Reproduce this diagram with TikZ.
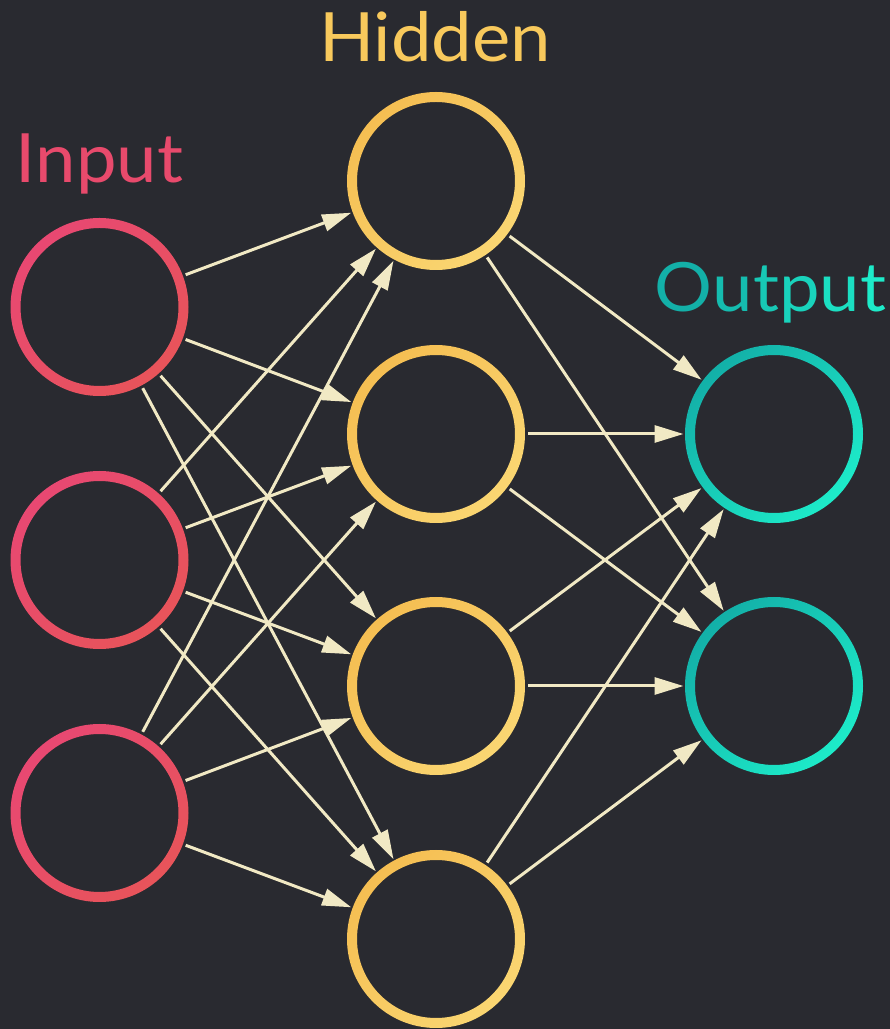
\documentclass[tikz,border=0pt]{standalone}
\usepackage{fontspec}
\setmainfont{Lato}[FakeStretch=1.065]
\usetikzlibrary{arrows.meta}
\definecolor{bg}{HTML}{292A30}
\definecolor{edgecol}{HTML}{F1E9C4}
\definecolor{inA}{HTML}{E84872}
\definecolor{inB}{HTML}{E8545A}
\definecolor{hidA}{HTML}{F5BE52}
\definecolor{hidB}{HTML}{FAD672}
\definecolor{outA}{HTML}{13B0A8}
\definecolor{outB}{HTML}{1DEBC9}
\definecolor{inText}{HTML}{E84A6C}
\definecolor{hidText}{HTML}{F8C95C}
\tikzset{
  neuron/.style={circle, draw=none, minimum size=178pt, inner sep=0pt, outer sep=0pt},
  edge/.style={draw=edgecol, line width=3pt, shorten <=3pt, shorten >=1.5pt,
    -{Triangle[length=29pt,width=17pt]}},
  lbl/.style={anchor=base, font=\fontsize{68}{80}\selectfont}
}
\newcommand{\ringshade}[3]{%
  \shade[even odd rule, left color=#2, right color=#3, shading angle=45]
    (#1) circle[radius=89pt] (#1) circle[radius=79pt];}
\begin{document}
\begin{tikzpicture}[x=1pt,y=1pt]
\fill[bg] (0,0) rectangle (890,1029);
\useasboundingbox (0,0) rectangle (890,1029);
% nodes
\node[neuron] (i1) at (99.5,722) {};
\node[neuron] (i2) at (99.5,469) {};
\node[neuron] (i3) at (99.5,216) {};
\node[neuron] (h1) at (436,848) {};
\node[neuron] (h2) at (436,595) {};
\node[neuron] (h3) at (436,343) {};
\node[neuron] (h4) at (436,90) {};
\node[neuron] (o1) at (774,595) {};
\node[neuron] (o2) at (774,343) {};
% rings
\foreach \n in {i1,i2,i3}{\ringshade{\n}{inA}{inB}}
\foreach \n in {h1,h2,h3,h4}{\ringshade{\n}{hidA}{hidB}}
\foreach \n in {o1,o2}{\ringshade{\n}{outA}{outB}}
% edges
\foreach \a in {i1,i2,i3}{
  \foreach \b in {h1,h2,h3,h4}{\draw[edge] (\a) -- (\b);}}
\foreach \a in {h1,h2,h3,h4}{
  \foreach \b in {o1,o2}{\draw[edge] (\a) -- (\b);}}
% labels
\node[lbl, text=inText] (tin) at (99.5,846) {Input};
\node[lbl, text=hidText] (thid) at (435,967) {Hidden};
\node[lbl] (tout) at (770.5,717.5) {\textcolor{outA}{O}\textcolor{outB!20!outA}{u}\textcolor{outB!40!outA}{t}\textcolor{outB!60!outA}{p}\textcolor{outB!80!outA}{u}\textcolor{outB}{t}};
\end{tikzpicture}
\end{document}
